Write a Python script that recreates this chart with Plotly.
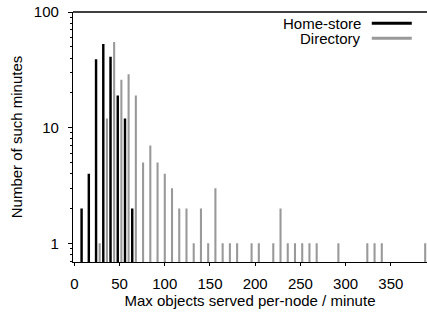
import plotly.graph_objects as go
import math

# Data
home_x = [8, 16, 24, 32, 40, 48, 56, 64]
home_y = [2, 4, 39, 53, 41, 19, 12, 2]

dir_x = [28, 36, 44, 52, 60, 68, 76, 84, 92, 100, 108, 116, 124, 132, 140, 148,
         156, 164, 172, 180, 196, 204, 220, 228, 236, 244, 252, 260, 268, 292,
         324, 332, 340, 388]
dir_y = [1, 12, 55, 26, 29, 19, 5, 7, 5, 4, 3, 2, 2, 1, 2, 1,
         3, 1, 1, 1, 1, 1, 1, 2, 1, 1, 1, 1, 1, 1,
         1, 1, 1, 1]

x_ticks = [0, 50, 100, 150, 200, 250, 300, 350]
y_ticks = [1, 10, 100]
y_ticklabels = ["1", "10", "100"]

series_names = ["Home-store", "Directory"]
BLACK = "#000000"
GRAY = "#999999"
FONT = "Liberation Sans, Arial, sans-serif"
FS = 15

fig = go.Figure()
fig.add_trace(go.Bar(x=dir_x, y=dir_y, width=2.3, marker=dict(color=GRAY, line=dict(width=0)),
                     name=series_names[1], showlegend=False))
fig.add_trace(go.Bar(x=home_x, y=home_y, width=2.7, marker=dict(color=BLACK, line=dict(width=0)),
                     name=series_names[0], showlegend=False))

fig.update_layout(
    width=427, height=314,
    margin=dict(l=73, r=0, t=12, b=52, autoexpand=False),
    paper_bgcolor="white", plot_bgcolor="white",
    barmode="overlay",
    font=dict(family=FONT, size=FS, color="#000000"),
    xaxis=dict(
        range=[-1.5, 390], tickvals=x_ticks, ticktext=[str(v) for v in x_ticks],
        showgrid=False, zeroline=False, showline=True, linecolor="black", linewidth=1.3,
        ticks="outside", ticklen=3, tickcolor="black", tickwidth=1,
        tickfont=dict(size=FS), ticklabelstandoff=5, automargin=False,
        title=dict(text="Max objects served per-node / minute", font=dict(size=FS), standoff=4),
    ),
    yaxis=dict(
        type="log", range=[math.log10(0.69), 2],
        tickvals=y_ticks, ticktext=y_ticklabels,
        showgrid=False, zeroline=False, showline=True, linecolor="black", linewidth=1.3,
        ticks="outside", ticklen=4, tickcolor="black", tickwidth=1,
        tickfont=dict(size=FS), ticklabelstandoff=6, automargin=False,
        minor=dict(ticks="outside", ticklen=2, tickcolor="black", dtick="D1", showgrid=False),
        title=dict(text="Number of such minutes", font=dict(size=FS), standoff=7),
    ),
)

# top border
fig.add_shape(type="line", xref="paper", yref="paper", x0=0, x1=1.01, y0=1, y1=1,
              line=dict(color="black", width=1.3))

# legend (text left of line sample, like the reference)
legend_rows = [(series_names[0], BLACK, 0.955), (series_names[1], GRAY, 0.895)]
for name, col, yy in legend_rows:
    fig.add_annotation(xref="paper", yref="paper", x=0.818, y=yy, text=name, showarrow=False,
                       xanchor="right", yanchor="middle", font=dict(size=FS, family=FONT))
    fig.add_shape(type="line", xref="paper", yref="paper", x0=0.844, x1=0.957, y0=yy, y1=yy,
                  line=dict(color=col, width=3))

fig.write_html("out.html", config={"displayModeBar": False},
               post_script="document.body.style.margin='0';document.body.style.padding='0';")
